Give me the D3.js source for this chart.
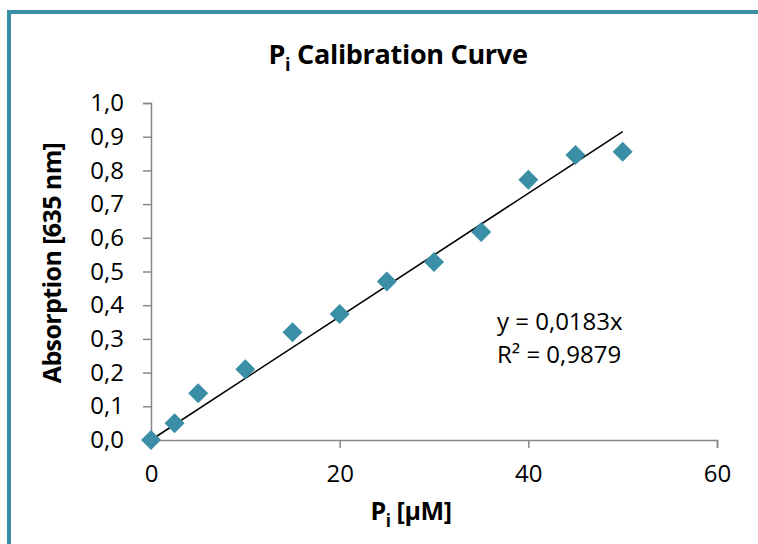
<!DOCTYPE html>
<html>
<head>
<meta charset="utf-8">
<script src="https://cdn.jsdelivr.net/npm/d3@7"></script>
<style>
  body { margin: 0; background: #fff; }
  svg { display: block; font-family: "Open Sans", sans-serif; }
</style>
</head>
<body>
<div id="chart"></div>
<script>
// concentration (µM) and absorption at 635 nm
let concentrations = [0, 2.5, 5, 10, 15, 20, 25, 30, 35, 40, 45, 50];
let absorptions = [0.0, 0.05, 0.139, 0.21, 0.32, 0.374, 0.47, 0.528, 0.617, 0.772, 0.846, 0.855];
let xTicks = [0, 20, 40, 60];
let yTicks = [0, 0.1, 0.2, 0.3, 0.4, 0.5, 0.6, 0.7, 0.8, 0.9, 1.0];
let slope = 0.0183;
let rSquared = "0,9879";

let width = 758, height = 544;
let margin = {top: 103, right: 41, bottom: 104, left: 151};

let svg = d3.select("#chart").append("svg")
    .attr("width", width)
    .attr("height", height);

// outer frame
svg.append("rect")
    .attr("x", 9).attr("y", 12)
    .attr("width", width + 20).attr("height", height + 20)
    .attr("fill", "none")
    .attr("stroke", "#3a8fa6")
    .attr("stroke-width", 4);

let x = d3.scaleLinear().domain([0, 60]).range([margin.left, width - margin.right]);
let y = d3.scaleLinear().domain([0, 1]).range([height - margin.bottom, margin.top]);

let fmt = d => d3.format(".1f")(d).replace(".", ",");

// y axis
let yAxis = svg.append("g")
    .attr("transform", "translate(" + margin.left + ",0)")
    .call(d3.axisLeft(y).tickValues(yTicks).tickFormat(fmt).tickSize(8).tickPadding(19));

// x axis
let xAxis = svg.append("g")
    .attr("transform", "translate(0," + y(0) + ")")
    .call(d3.axisBottom(x).tickValues(xTicks).tickFormat(d3.format("d")).tickSize(8).tickPadding(17));

[yAxis, xAxis].forEach(function (g) {
    g.select(".domain").attr("stroke", "#868686").attr("stroke-width", 1.5);
    g.selectAll(".tick line").attr("stroke", "#868686").attr("stroke-width", 1.5);
    g.selectAll(".tick text")
        .attr("fill", "#000")
        .style("font-family", "'Open Sans', sans-serif")
        .style("font-size", "24px");
});

// trend line y = slope * x
svg.append("line")
    .attr("x1", x(0)).attr("y1", y(0))
    .attr("x2", x(50)).attr("y2", y(slope * 50))
    .attr("stroke", "#000")
    .attr("stroke-width", 1.6);

// data points
let data = concentrations.map((c, i) => ({c: c, a: absorptions[i]}));
svg.selectAll(".pt")
    .data(data)
    .enter()
    .append("path")
    .attr("class", "pt")
    .attr("d", d3.symbol().type(d3.symbolSquare).size(200))
    .attr("transform", d => "translate(" + x(d.c) + "," + y(d.a) + ") rotate(45)")
    .attr("fill", "#3a8fa6");

// title
let title = svg.append("text")
    .attr("x", 398).attr("y", 64)
    .attr("text-anchor", "middle")
    .style("font-weight", "bold")
    .style("font-size", "27px")
    .style("letter-spacing", "-0.3px");
title.append("tspan").text("P");
title.append("tspan").attr("dy", 7).style("font-size", "18px").text("i");
title.append("tspan").attr("dy", -7).text(" Calibration Curve");

// axis titles
let xLabel = svg.append("text")
    .attr("x", 411).attr("y", 520)
    .attr("text-anchor", "middle")
    .style("font-weight", "bold")
    .style("font-size", "25px")
    .style("letter-spacing", "-0.4px");
xLabel.append("tspan").text("P");
xLabel.append("tspan").attr("dy", 7).style("font-size", "17px").text("i");
xLabel.append("tspan").attr("dy", -7).text(" [µM]");

svg.append("text")
    .attr("transform", "translate(61,263) rotate(-90)")
    .attr("text-anchor", "middle")
    .style("font-weight", "bold")
    .style("font-size", "25px")
    .style("letter-spacing", "-0.6px")
    .text("Absorption [635 nm]");

// regression annotation
svg.append("text")
    .attr("x", 497).attr("y", 330)
    .style("font-size", "24px")
    .text("y = " + String(slope).replace(".", ",") + "x");
svg.append("text")
    .attr("x", 497).attr("y", 363)
    .style("font-size", "24px")
    .text("R² = " + rSquared);
</script>
</body>
</html>
